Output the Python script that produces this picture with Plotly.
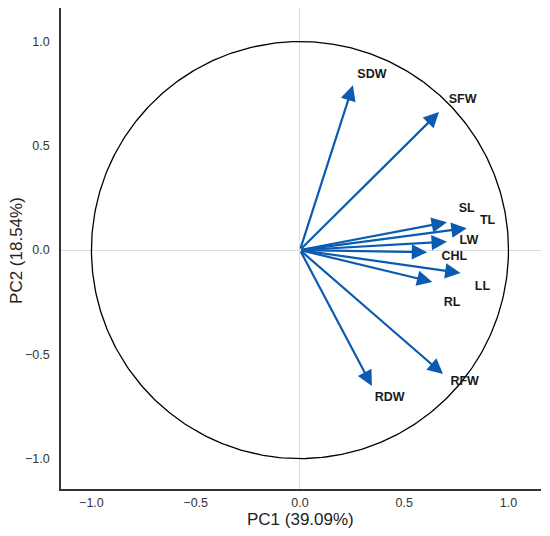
import numpy as np
import plotly.graph_objects as go

# loadings (arrow tips)
variables = ["SDW", "SFW", "SL", "TL", "LW", "CHL", "LL", "RL", "RFW", "RDW"]
pc1 = [0.254, 0.667, 0.705, 0.80, 0.705, 0.61, 0.77, 0.635, 0.686, 0.345]
pc2 = [0.79, 0.662, 0.134, 0.105, 0.04, -0.01, -0.11, -0.153, -0.595, -0.652]

# label positions
label_x = [0.345, 0.78, 0.80, 0.90, 0.81, 0.74, 0.875, 0.73, 0.79, 0.43]
label_y = [0.84, 0.72, 0.197, 0.139, 0.043, -0.034, -0.177, -0.254, -0.633, -0.71]

tick_vals = [-1.0, -0.5, 0.0, 0.5, 1.0]
tick_text = ["\u22121.0", "\u22120.5", "0.0", "0.5", "1.0"]

arrow_color = "#0b5cb0"
font_family = "Liberation Sans, Arial"

fig = go.Figure()

# unit circle
theta = np.linspace(0, 2 * np.pi, 400)
fig.add_trace(go.Scatter(x=np.cos(theta), y=np.sin(theta), mode="lines",
                         line=dict(color="black", width=1.3),
                         hoverinfo="skip", showlegend=False))

# labels
fig.add_trace(go.Scatter(x=label_x, y=label_y, mode="text", text=variables,
                         textfont=dict(family=font_family, size=12.5,
                                       color="#1a1a1a", weight="bold"),
                         showlegend=False, hoverinfo="skip"))

# arrows
for vx, vy in zip(pc1, pc2):
    fig.add_annotation(x=vx, y=vy, ax=0, ay=0, xref="x", yref="y",
                       axref="x", ayref="y", text="", showarrow=True,
                       arrowhead=2, arrowsize=1.4, arrowwidth=2.2,
                       arrowcolor=arrow_color, standoff=0, startstandoff=0)

axis_common = dict(
    tickvals=tick_vals, ticktext=tick_text, showgrid=False,
    zeroline=True, zerolinecolor="#dcdcdc", zerolinewidth=1,
    showline=True, linecolor="#333333", linewidth=1.5, automargin=False,
    ticks="", tickfont=dict(family=font_family, size=12.5, color="#333333"),
)

fig.update_xaxes(range=[-1.146, 1.156], ticklabelstandoff=1, **axis_common)
fig.update_yaxes(range=[-1.146, 1.161], ticklabelstandoff=7, **axis_common)

# axis titles
fig.add_annotation(text="PC1 (39.09%)", xref="paper", yref="paper", x=0.498, y=-0.064,
                   xanchor="center", yanchor="middle", showarrow=False,
                   font=dict(family=font_family, size=17, color="#222222"))
fig.add_annotation(text="PC2 (18.54%)", xref="paper", yref="paper", x=-0.0917, y=0.497,
                   xanchor="center", yanchor="middle", showarrow=False, textangle=-90,
                   font=dict(family=font_family, size=17, color="#222222"))

# page body adds an 8px offset, so the figure is sized to fit the window
fig.update_layout(width=542, height=528, plot_bgcolor="white", paper_bgcolor="white",
                  margin=dict(l=53, r=9, t=0, b=47), showlegend=False)

fig.write_html("out.html")
